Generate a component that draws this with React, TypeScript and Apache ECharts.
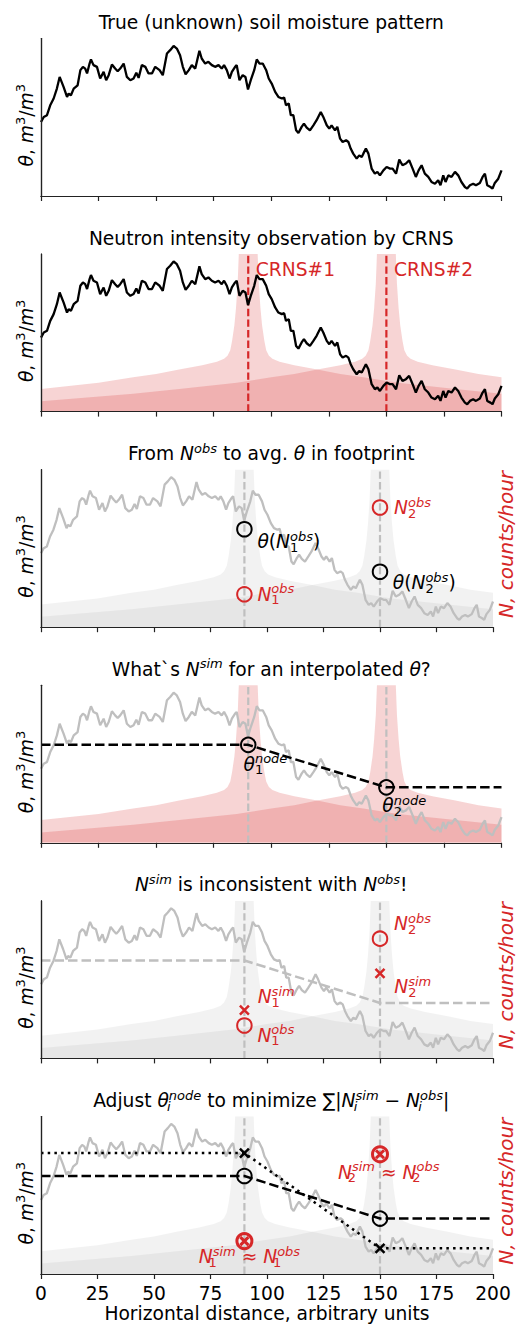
import React, { useEffect, useRef } from "react";
import * as echarts from "echarts";

// ---------- data ----------
const distance = [
  0, 1.2, 2.6, 4.0, 5.5, 6.9, 8.1, 9.8, 11.3, 12.0,
  13.0, 14.2, 15.9, 17.1, 18.2, 19.2, 20.0, 21.1, 21.7, 22.8,
  24.3, 25.7, 27.2, 28.3, 29.4, 30.8, 32.2, 33.3, 34.4, 35.9,
  37.3, 38.8, 40.2, 41.4, 42.4, 43.8, 45.3, 46.7, 48.2, 49.6,
  51.5, 52.9, 54.7, 56.1, 57.6, 59.0, 60.4, 61.6, 62.8, 64.2,
  65.5, 67.0, 68.8, 69.8, 71.3, 72.7, 74.2, 75.6, 77.1, 78.5,
  79.5, 80.7, 81.9, 82.9, 84.3, 85.0, 86.2, 87.6, 88.8, 89.9,
  91.1, 92.6, 93.7, 94.9, 96.3, 97.8, 98.9, 100.2, 101.7, 103.1,
  104.6, 105.6, 106.4, 107.6, 108.5, 109.6, 110.8, 111.8, 113.2, 114.2,
  115.4, 116.8, 118.3, 119.7, 121.5, 122.6, 124.1, 125.2, 126.2, 127.7,
  128.7, 129.9, 131.0, 132.5, 133.5, 134.5, 135.6, 137.1, 138.2, 139.3,
  140.0, 141.1, 142.2, 143.6, 145.0, 146.1, 147.2, 148.7, 150.1, 151.6,
  152.7, 154.2, 155.6, 157.0, 158.5, 159.9, 161.4, 162.8, 164.0, 165.3,
  166.7, 168.2, 169.6, 171.1, 172.5, 173.5, 174.7, 175.7, 176.9, 178.3,
  179.8, 181.2, 182.6, 184.1, 185.1, 186.3, 187.7, 188.9, 190.6, 191.8,
  192.8, 193.8, 195.2, 196.1, 197.1, 198.6, 200,
];

const moisture = [
  47.0, 50.2, 51.3, 57.6, 61.9, 68.2, 75.6, 69.3, 62.9, 65.0,
  64.0, 68.2, 70.3, 79.9, 82.0, 80.9, 77.8, 84.1, 86.7, 83.1,
  82.0, 74.6, 78.8, 73.5, 76.7, 83.5, 80.9, 79.2, 80.9, 84.1,
  75.6, 73.5, 74.6, 78.2, 75.0, 83.1, 82.0, 77.8, 77.8, 82.0,
  79.9, 76.7, 90.5, 92.6, 95.3, 93.6, 89.4, 82.0, 77.3, 79.9,
  83.1, 80.9, 92.2, 87.3, 84.1, 85.2, 83.1, 82.0, 83.1, 80.9,
  83.1, 79.9, 74.6, 78.8, 82.0, 83.1, 73.5, 76.7, 75.6, 67.6,
  73.5, 79.9, 86.7, 84.1, 84.1, 79.9, 74.6, 71.4, 66.1, 62.9,
  61.9, 62.5, 57.6, 58.7, 51.3, 51.3, 41.7, 40.0, 43.9, 46.0,
  43.4, 41.7, 44.9, 48.1, 53.4, 50.2, 44.9, 42.8, 44.9, 41.7,
  43.9, 36.4, 34.3, 35.4, 34.3, 30.1, 26.9, 23.7, 25.8, 24.8,
  26.9, 30.1, 26.9, 17.4, 14.2, 15.3, 13.1, 16.3, 18.4, 17.4,
  17.4, 14.2, 23.1, 19.5, 20.6, 22.7, 17.4, 12.1, 16.3, 19.5,
  14.2, 12.1, 8.9, 7.8, 10.0, 6.8, 13.1, 8.9, 13.1, 12.1,
  15.3, 13.1, 8.9, 5.7, 4.7, 6.8, 7.8, 6.8, 8.3, 12.1,
  14.2, 6.8, 5.7, 4.7, 8.3, 11.0, 16.3,
];

const sensorX = [90, 150];
const sensorNames = ["CRNS#1", "CRNS#2"];

// footprint weight vs distance from a sensor (same units as theta axis)
const footprintDist = [0, 2, 3, 4.1, 4.6, 5.3, 6, 7, 7.8, 9, 10.5, 13.6, 20, 30, 40, 50, 65, 90, 110, 150];
const footprintWeight = [500, 250, 150, 100, 81, 66, 55, 45, 39, 35.5, 33.5, 31.7, 29.5, 26.8, 23.8, 21.8, 18.3, 14.4, 11.4, 6.6];

const thetaNode = [62.2, 35.2];      // theta(N_obs) = node values
const thetaAdjusted = [76.8, 16.3];  // adjusted node values
const nObs = [20.9, 76.0];           // observed neutron counts (right axis)
const nSim = [30.7, 54.0];           // simulated neutron counts (right axis)

const xTickInterval = 25;
const X_MIN = 0;
const X_MAX = 200;
const Y_MIN = 0;
const Y_MAX = 100;

const panelTitles = [
  "{n|True (unknown) soil moisture pattern}",
  "{n|Neutron intensity observation by CRNS}",
  "{n|From }{it|N}{sp|obs}{n| to avg. }{it|θ}{n| in footprint}",
  "{n|What`s }{it|N}{sp|sim}{n| for an interpolated }{it|θ}{n|?}",
  "{it|N}{sp|sim}{n| is inconsistent with }{it|N}{sp|obs}{n|!}",
  "{n|Adjust }{it|θ}{sbi|i}{sp|node}{n| to minimize ∑|}{it|N}{sbi|i}{sp|sim}{n| − }{it|N}{sbi|i}{sp|obs}{n||}",
];
const yAxisLabel = "{it|θ}{n|, }{it|m}{sp3|3}{n|/}{it|m}{sp3|3}";
const rightAxisLabel = "{itb|N, counts/hour}";
const xAxisLabel = "Horizontal distance, arbitrary units";

// ---------- styles / layout ----------
const FONT = "DejaVu Sans";
const FS = 18.67;
const RED = "#d62728";
const SILVER = "#bfbfbf";
const SPINE = "#222";
const PINK_FILL = "rgba(214,39,40,0.2)";
const GREY_FILL = "rgba(128,128,128,0.1)";
const GRID_LEFT = 41;
const GRID_WIDTH = 460.5;
const GRID_H = 157.5;
const GRID_TOPS = [38.5, 254.1, 469.7, 685.3, 900.9, 1116.5];
const X_PATH = "path://M0,0L10,10M10,0L0,10";

function makeRich(color: string) {
  const base = { fontFamily: FONT, color };
  return {
    n: { ...base, fontSize: FS, lineHeight: 24 },
    it: { ...base, fontSize: FS, fontStyle: "italic", lineHeight: 24 },
    itb: { ...base, fontSize: 20, fontStyle: "italic", lineHeight: 24 },
    sp: { ...base, fontSize: 13, fontStyle: "italic", lineHeight: 12, verticalAlign: "top" },
    sp3: { ...base, fontSize: 13, lineHeight: 12, verticalAlign: "top" },
    sb: { ...base, fontSize: 13, lineHeight: 12, verticalAlign: "bottom", width: 0.01 },
    sbi: { ...base, fontSize: 13, fontStyle: "italic", lineHeight: 12, verticalAlign: "bottom", width: 0.01 },
  };
}

function footprintCurve(s: number) {
  const pts: number[][] = [];
  for (let k = footprintDist.length - 1; k >= 0; k--) {
    const x = s - footprintDist[k];
    if (x >= X_MIN) pts.push([x, footprintWeight[k]]);
  }
  for (let k = 1; k < footprintDist.length; k++) {
    const x = s + footprintDist[k];
    if (x <= X_MAX) pts.push([x, footprintWeight[k]]);
  }
  return pts;
}

function buildOption() {
  const series: any[] = [];

  const fills = (p: number, color: string) =>
    sensorX.forEach((s) =>
      series.push({
        type: "line", xAxisIndex: p, yAxisIndex: p, data: footprintCurve(s),
        symbol: "none", lineStyle: { width: 0 }, areaStyle: { color, opacity: 1 },
        z: 1, silent: true,
      })
    );

  const verticals = (p: number, color: string) =>
    sensorX.forEach((s) =>
      series.push({
        type: "line", xAxisIndex: p, yAxisIndex: p, data: [[s, Y_MIN], [s, Y_MAX]],
        symbol: "none", lineStyle: { color, width: 2.2, type: [7.4, 3.2] }, z: 2, silent: true,
      })
    );

  const curve = (p: number, color: string) =>
    series.push({
      type: "line", xAxisIndex: p, yAxisIndex: p,
      data: distance.map((d, k) => [d, moisture[k]]),
      symbol: "none", lineStyle: { color, width: 2.3 }, z: 3, silent: true,
    });

  const nodeLine = (p: number, values: number[], color: string, dash: number[]) =>
    series.push({
      type: "line", xAxisIndex: p, yAxisIndex: p,
      data: [[X_MIN, values[0]], ...sensorX.map((s, k) => [s, values[k]]), [X_MAX, values[values.length - 1]]],
      symbol: "none", lineStyle: { color, width: 2.5, type: dash }, z: 4, silent: true,
    });

  type Lab = { text: string; pos: string; dx: number; dy: number } | null;
  const points = (
    p: number, yIdx: number, values: number[], symbol: string, size: number,
    color: string, bw: number, labels?: Lab[], labelColor?: string
  ) =>
    series.push({
      type: "scatter", xAxisIndex: p, yAxisIndex: yIdx, symbol, symbolSize: size,
      itemStyle: { color: "rgba(0,0,0,0)", borderColor: color, borderWidth: bw, opacity: 1 },
      z: 5, silent: true,
      data: sensorX.map((s, k) => {
        const l = labels ? labels[k] : null;
        return {
          value: [s, values[k]],
          label: l
            ? {
                show: true, position: l.pos, distance: 0, offset: [l.dx, l.dy],
                formatter: l.text, rich: makeRich(labelColor || color),
                color: labelColor || color, fontFamily: FONT, fontSize: FS, opacity: 1,
              }
            : { show: false },
        };
      }),
    });

  // Panel 0
  curve(0, "#000");

  // Panel 1
  fills(1, PINK_FILL);
  verticals(1, RED);
  curve(1, "#000");
  series.push({
    type: "scatter", xAxisIndex: 1, yAxisIndex: 1, symbol: "circle", symbolSize: 1, z: 6, silent: true,
    itemStyle: { color: "rgba(0,0,0,0)", opacity: 1 },
    data: sensorX.map((s, k) => ({ value: [s, 90], name: sensorNames[k] })),
    label: {
      show: true, position: "right", distance: 7, formatter: "{b}", opacity: 1,
      color: RED, fontFamily: FONT, fontSize: FS,
    },
  });

  // Panel 2
  fills(2, GREY_FILL);
  verticals(2, SILVER);
  curve(2, SILVER);
  points(2, 2, thetaNode, "circle", 14.5, "#000", 2, [
    { text: "{it|θ}{n|(}{it|N}{sb|1}{sp|obs}{n|)}", pos: "right", dx: 4.75, dy: 12.4 },
    { text: "{it|θ}{n|(}{it|N}{sb|2}{sp|obs}{n|)}", pos: "right", dx: 4.5, dy: 11 },
  ]);
  points(2, 8, nObs, "circle", 14.5, RED, 2, [
    { text: "{it|N}{sb|1}{sp|obs}", pos: "right", dx: 4.75, dy: 0 },
    { text: "{it|N}{sb|2}{sp|obs}", pos: "right", dx: 5.75, dy: 0 },
  ]);

  // Panel 3
  fills(3, PINK_FILL);
  verticals(3, SILVER);
  curve(3, SILVER);
  nodeLine(3, thetaNode, "#000", [9.5, 4]);
  points(3, 3, thetaNode, "circle", 14.5, "#000", 2, [
    { text: "{it|θ}{sb|1}{sp|node}", pos: "right", dx: -13, dy: 19.3 },
    { text: "{it|θ}{sb|2}{sp|node}", pos: "right", dx: -12.3, dy: 18.4 },
  ]);

  // Panel 4
  fills(4, GREY_FILL);
  verticals(4, SILVER);
  curve(4, SILVER);
  nodeLine(4, thetaNode, SILVER, [9.5, 4]);
  points(4, 10, nObs, "circle", 14.5, RED, 2, [
    { text: "{it|N}{sb|1}{sp|obs}", pos: "right", dx: 4.75, dy: 9.8 },
    { text: "{it|N}{sb|2}{sp|obs}", pos: "right", dx: 5.75, dy: -15.2 },
  ]);
  points(4, 10, nSim, X_PATH, 9, RED, 2.5, [
    { text: "{it|N}{sb|1}{sp|sim}", pos: "right", dx: 7.5, dy: -13.3 },
    { text: "{it|N}{sb|2}{sp|sim}", pos: "right", dx: 8.5, dy: 13.4 },
  ]);

  // Panel 5
  fills(5, GREY_FILL);
  verticals(5, SILVER);
  curve(5, SILVER);
  nodeLine(5, thetaNode, "#000", [9.5, 4]);
  nodeLine(5, thetaAdjusted, "#000", [2.5, 4.2]);
  points(5, 5, thetaNode, "circle", 14.5, "#000", 2);
  points(5, 5, thetaAdjusted, X_PATH, 9, "#000", 2.5);
  points(5, 11, nObs, "circle", 15, RED, 3, [
    { text: "{it|N}{sb|1}{sp|sim}{n| ≈ }{it|N}{sb|1}{sp|obs}", pos: "bottom", dx: 5, dy: -5.4 },
    { text: "{it|N}{sb|2}{sp|sim}{n| ≈ }{it|N}{sb|2}{sp|obs}", pos: "bottom", dx: 8.7, dy: -3 },
  ]);
  points(5, 11, nObs, X_PATH, 8, RED, 3);

  const spine = { show: true, lineStyle: { color: SPINE, width: 1.2 } };

  const xAxes: any[] = [];
  const yAxes: any[] = [];
  for (let p = 0; p < 6; p++) {
    xAxes.push({
      type: "value", gridIndex: p, min: X_MIN, max: X_MAX, interval: xTickInterval,
      axisLine: spine, splitLine: { show: false },
      axisTick: { show: true, length: 5, lineStyle: { color: SPINE, width: 1.2 } },
      axisLabel: { show: p === 5, color: "#000", fontSize: FS, fontFamily: FONT, margin: 10 },
      name: p === 5 ? xAxisLabel : "",
      nameLocation: "middle", nameGap: 26,
      nameTextStyle: { color: "#000", fontSize: FS, fontFamily: FONT },
      z: 6,
    });
  }
  for (let p = 0; p < 6; p++) {
    xAxes.push({
      type: "value", gridIndex: p, position: "top", min: X_MIN, max: X_MAX,
      axisLine: spine, axisTick: { show: false }, axisLabel: { show: false },
      splitLine: { show: false }, z: 6,
    });
  }
  for (let p = 0; p < 6; p++) {
    yAxes.push({
      type: "value", gridIndex: p, min: Y_MIN, max: Y_MAX, position: "left",
      axisLine: spine, axisTick: { show: false }, axisLabel: { show: false },
      splitLine: { show: false },
      name: yAxisLabel, nameLocation: "middle", nameRotate: 90, nameGap: 3,
      nameTextStyle: { rich: makeRich("#000"), color: "#000", fontFamily: FONT, fontSize: FS, padding: [0, 16, 0, 0] },
      z: 6,
    });
  }
  for (let p = 0; p < 6; p++) {
    const hasName = p === 2 || p === 4 || p === 5;
    yAxes.push({
      type: "value", gridIndex: p, min: Y_MIN, max: Y_MAX, position: "right",
      axisLine: spine, axisTick: { show: false }, axisLabel: { show: false },
      splitLine: { show: false },
      name: hasName ? rightAxisLabel : "", nameLocation: "middle", nameRotate: 90, nameGap: 1,
      nameTextStyle: { rich: makeRich(RED), color: RED, fontFamily: FONT, fontSize: 20, padding: [0, 0, 0, 8] },
      z: 6,
    });
  }

  return {
    animation: false,
    backgroundColor: "#fff",
    title: panelTitles.map((t, i) => ({
      text: t, left: GRID_LEFT + GRID_WIDTH / 2, textAlign: "center", top: GRID_TOPS[i] - 28,
      padding: 0,
      textStyle: { rich: makeRich("#000"), color: "#000", fontFamily: FONT, fontSize: FS, fontWeight: "normal" },
    })),
    grid: GRID_TOPS.map((t) => ({ left: GRID_LEFT, top: t, width: GRID_WIDTH, height: GRID_H, show: false })),
    xAxis: xAxes,
    yAxis: yAxes,
    series,
  };
}

export default function App() {
  const ref = useRef<HTMLDivElement>(null);
  useEffect(() => {
    document.body.style.margin = "0";
    if (!ref.current) return;
    const chart = echarts.init(ref.current, undefined, { renderer: "svg" });
    chart.setOption(buildOption() as any);
    return () => chart.dispose();
  }, []);
  return <div ref={ref} style={{ width: 524, height: 1327 }} />;
}
